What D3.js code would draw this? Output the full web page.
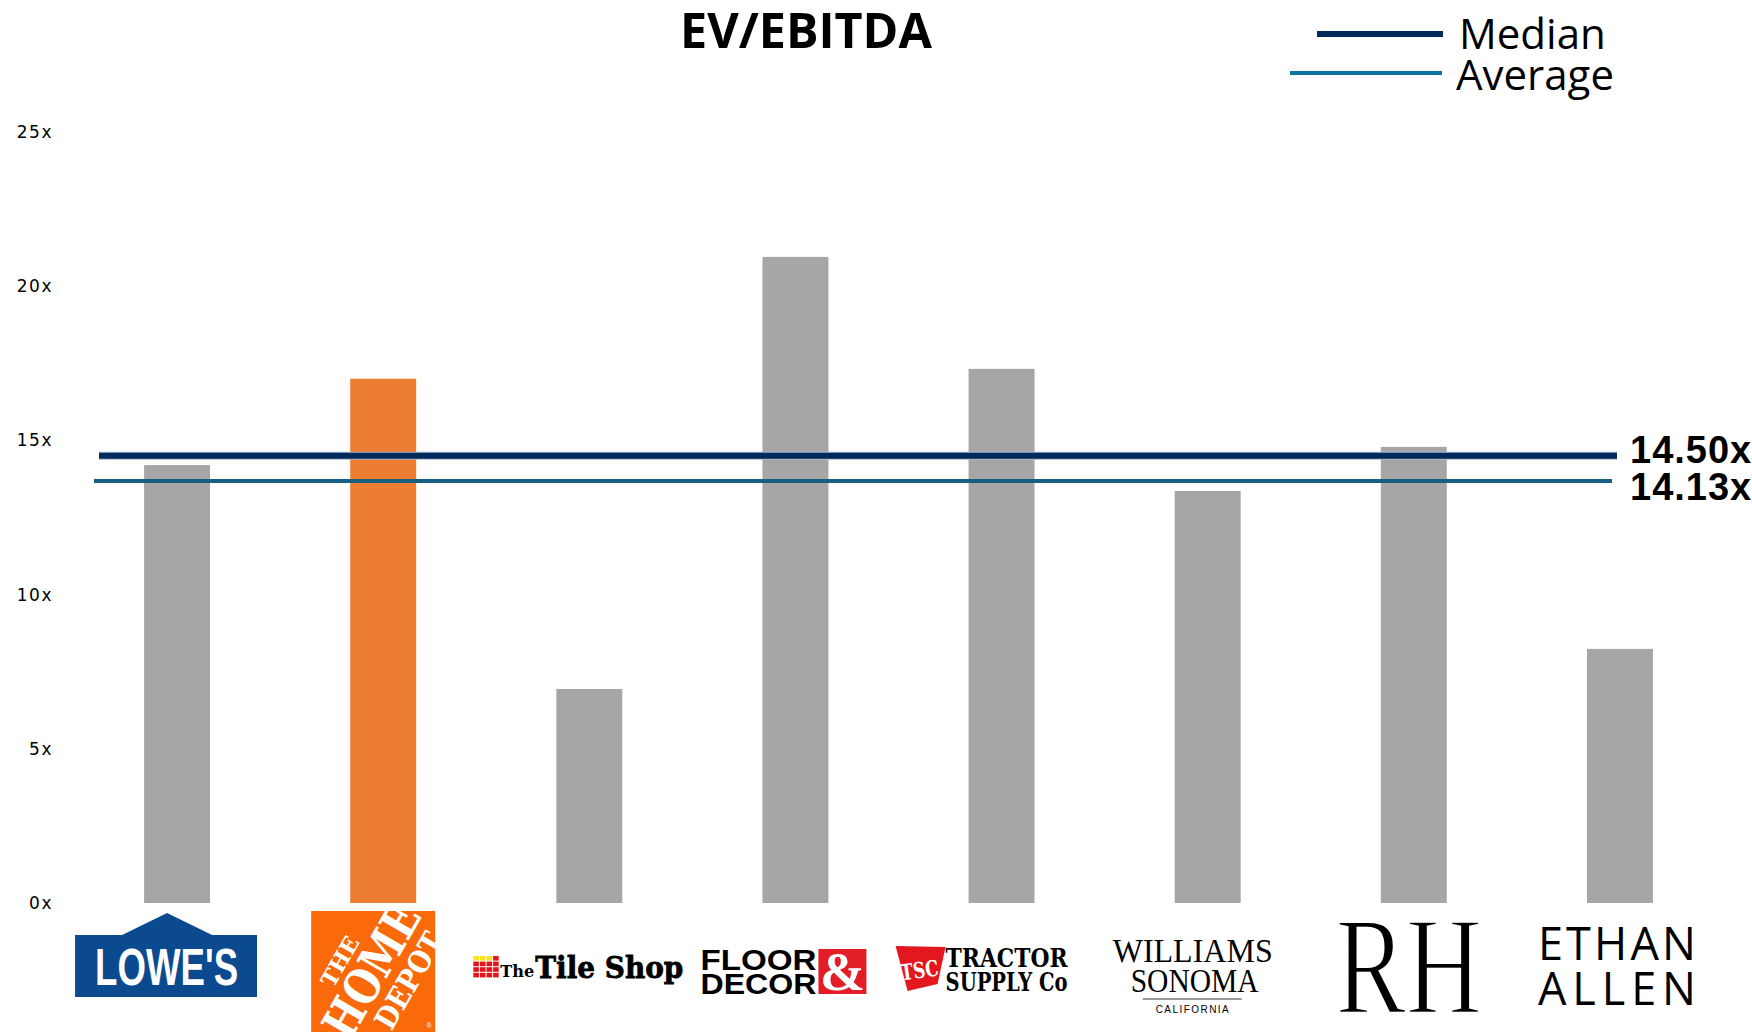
<!DOCTYPE html>
<html>
<head>
<meta charset="utf-8">
<script src="https://cdn.jsdelivr.net/npm/d3@7"></script>
<style>
  body { margin: 0; background: #fff; }
  svg { display: block; }
</style>
</head>
<body>
<script>
// Global consts
var w = 1752;
var h = 1032;

// data
var companies = ["Lowe's", "The Home Depot", "The Tile Shop", "Floor & Decor",
                 "Tractor Supply Co", "Williams Sonoma", "RH", "Ethan Allen"];
var evEbitda = [14.20, 17.00, 6.94, 20.95, 17.32, 13.36, 14.79, 8.24];
var highlight = "The Home Depot";
var yTicks = [0, 5, 10, 15, 20, 25];
var medianValue = 14.50;
var averageValue = 14.13;
// the average line in the source is drawn a bit lower than its label says
var averageDrawnAt = 13.68;
var legendItems = ["Median", "Average"];

var navy = "#002A5C";
var teal = "#175E82";

var svg = d3.select("body").append("svg")
    .attr("width", w)
    .attr("height", h);

var x = d3.scaleBand()
    .domain(companies)
    .range([74, 1723])
    .paddingInner(0.68)
    .paddingOuter(0.34);

var y = d3.scaleLinear()
    .domain([0, 25])
    .range([903, 132]);

// title
svg.append("text")
    .attr("x", 806)
    .attr("y", 48)
    .attr("text-anchor", "middle")
    .attr("font-family", "'Open Sans', 'Liberation Sans', sans-serif")
    .attr("font-weight", 700)
    .attr("font-size", "48.5px")
    .text("EV/EBITDA");

// y axis (labels only)
var yAxis = d3.axisLeft(y)
    .tickValues(yTicks)
    .tickSize(0)
    .tickPadding(0)
    .tickFormat(function (d) { return d + "x"; });

var gy = svg.append("g")
    .attr("transform", "translate(53,0)")
    .call(yAxis);
gy.select(".domain").remove();
gy.selectAll("text")
    .attr("font-family", "'DejaVu Sans', sans-serif")
    .attr("font-size", "17px")
    .attr("letter-spacing", "1.5px")
    .attr("fill", "#000");

// bars
var bars = companies.map(function (c, i) {
    return {name: c, value: evEbitda[i]};
});

svg.append("g")
    .selectAll("rect")
    .data(bars)
    .enter().append("rect")
    .attr("x", function (d) { return x(d.name); })
    .attr("y", function (d) { return y(d.value); })
    .attr("width", x.bandwidth())
    .attr("height", function (d) { return y(0) - y(d.value); })
    .attr("fill", function (d) { return d.name === highlight ? "#ED7D31" : "#A6A6A6"; });

// median / average lines
svg.append("line")
    .attr("x1", 99).attr("x2", 1617)
    .attr("y1", y(medianValue)).attr("y2", y(medianValue))
    .attr("stroke", "#A9B8CC").attr("stroke-width", 8);
svg.append("line")
    .attr("x1", 99).attr("x2", 1617)
    .attr("y1", y(medianValue)).attr("y2", y(medianValue))
    .attr("stroke", navy).attr("stroke-width", 6);
svg.append("line")
    .attr("x1", 94).attr("x2", 1612)
    .attr("y1", y(averageDrawnAt)).attr("y2", y(averageDrawnAt))
    .attr("stroke", teal).attr("stroke-width", 4);

var labelFont = "'Liberation Sans', Arial, sans-serif";
svg.append("text")
    .attr("x", 1630)
    .attr("y", y(medianValue) + 7)
    .attr("font-family", labelFont)
    .attr("font-weight", 700)
    .attr("font-size", "38px")
    .attr("letter-spacing", "1px")
    .text(medianValue.toFixed(2) + "x");
svg.append("text")
    .attr("x", 1630)
    .attr("y", y(averageDrawnAt) + 19)
    .attr("font-family", labelFont)
    .attr("font-weight", 700)
    .attr("font-size", "38px")
    .attr("letter-spacing", "1px")
    .text(averageValue.toFixed(2) + "x");

// legend
var legend = svg.append("g").attr("id", "legend");
legend.append("line")
    .attr("x1", 1317).attr("x2", 1443).attr("y1", 34).attr("y2", 34)
    .attr("stroke", navy).attr("stroke-width", 6);
legend.append("line")
    .attr("x1", 1290).attr("x2", 1442).attr("y1", 73).attr("y2", 73)
    .attr("stroke", "#0B76A0").attr("stroke-width", 4);
legend.selectAll("text.leg")
    .data(legendItems)
    .enter().append("text")
    .attr("class", "leg")
    .attr("x", function (d, i) { return i === 0 ? 1459 : 1456; })
    .attr("y", function (d, i) { return i === 0 ? 49 : 90; })
    .attr("font-family", "'Open Sans', 'Liberation Sans', sans-serif")
    .attr("font-size", "42px")
    .text(function (d) { return d; });

// logos under each bar
function cx(name) { return x(name) + x.bandwidth() / 2; }

function drawLowes(g, c) {
    g.append("polygon")
        .attr("points", [[c - 102, 935], [c - 55, 935], [c - 10, 913], [c + 35, 935],
                         [c + 80, 935], [c + 80, 997], [c - 102, 997]].join(" "))
        .attr("fill", "#0B4A8F");
    g.append("text")
        .attr("x", c - 82).attr("y", 985)
        .attr("font-family", "'Liberation Sans Narrow', 'Liberation Sans', sans-serif")
        .attr("font-weight", 700)
        .attr("font-size", "52px")
        .attr("textLength", 143)
        .attr("lengthAdjust", "spacingAndGlyphs")
        .attr("fill", "#fff")
        .text("LOWE'S");
}

function drawHomeDepot(g, c) {
    var x0 = c - 72, x1 = c + 52, y0 = 911, y1 = 1032;
    svg.append("clipPath").attr("id", "hdclip")
        .append("rect").attr("x", x0).attr("y", y0).attr("width", x1 - x0).attr("height", y1 - y0);
    g.append("rect")
        .attr("x", x0).attr("y", y0).attr("width", x1 - x0).attr("height", y1 - y0)
        .attr("fill", "#FA6A0A");
    var t = g.append("g").attr("clip-path", "url(#hdclip)")
        .append("g")
        .attr("transform", "translate(" + ((x0 + x1) / 2) + "," + ((y0 + y1) / 2) + ") rotate(-60)");
    var serif = "'DejaVu Serif', 'Liberation Serif', serif";
    t.append("text").attr("x", -8).attr("y", -26).attr("text-anchor", "middle")
        .attr("font-family", serif).attr("font-weight", 700).attr("font-size", "22px")
        .attr("fill", "#fff").text("THE");
    t.append("text").attr("x", 0).attr("y", 15).attr("text-anchor", "middle")
        .attr("font-family", serif).attr("font-weight", 700).attr("font-size", "48px")
        .attr("textLength", 146).attr("lengthAdjust", "spacingAndGlyphs")
        .attr("fill", "#fff").text("HOME");
    t.append("text").attr("x", 10).attr("y", 46).attr("text-anchor", "middle")
        .attr("font-family", serif).attr("font-weight", 700).attr("font-size", "30px")
        .attr("textLength", 106).attr("lengthAdjust", "spacingAndGlyphs")
        .attr("fill", "#fff").text("DEPOT");
    g.append("text").attr("x", x1 - 6).attr("y", y1 - 4).attr("text-anchor", "middle")
        .attr("font-family", "sans-serif").attr("font-size", "7px").attr("fill", "#fff").text("®");
}

function drawTileShop(g, c) {
    var gx = c - 116, gy0 = 956;
    for (var r = 0; r < 4; r++) {
        for (var k = 0; k < 4; k++) {
            g.append("rect")
                .attr("x", gx + k * 6.6).attr("y", gy0 + r * 5.6)
                .attr("width", 5.6).attr("height", 4.6)
                .attr("fill", r === 0 && k < 3 ? "#FFE21A" : "#E3141B");
        }
    }
    g.append("text").attr("x", c - 89).attr("y", 977)
        .attr("font-family", "'DejaVu Serif', serif").attr("font-weight", 700)
        .attr("font-size", "17px").attr("textLength", 34).attr("lengthAdjust", "spacingAndGlyphs")
        .text("The");
    g.append("text").attr("x", c - 54).attr("y", 978)
        .attr("font-family", "'DejaVu Serif', serif").attr("font-weight", 700)
        .attr("font-size", "30px").attr("textLength", 148).attr("lengthAdjust", "spacingAndGlyphs")
        .attr("stroke", "#000").attr("stroke-width", 0.8)
        .text("Tile Shop");
}

function drawFloorDecor(g, c) {
    var f = "'Liberation Sans', Arial, sans-serif";
    g.append("text").attr("x", c - 95).attr("y", 970)
        .attr("font-family", f).attr("font-weight", 700).attr("font-size", "29px")
        .attr("textLength", 116).attr("lengthAdjust", "spacingAndGlyphs").text("FLOOR");
    g.append("text").attr("x", c - 95).attr("y", 994)
        .attr("font-family", f).attr("font-weight", 700).attr("font-size", "29px")
        .attr("textLength", 116).attr("lengthAdjust", "spacingAndGlyphs").text("DECOR");
    g.append("rect").attr("x", c + 23).attr("y", 949).attr("width", 48).attr("height", 45)
        .attr("fill", "#E41E26");
    g.append("text").attr("x", c + 47).attr("y", 990).attr("text-anchor", "middle")
        .attr("font-family", "'Liberation Serif', serif").attr("font-weight", 700)
        .attr("font-size", "54px").attr("fill", "#fff").text("&");
}

function drawTractor(g, c) {
    g.append("polygon")
        .attr("points", [[c - 106, 946], [c - 56, 947], [c - 64, 984], [c - 94, 991]].join(" "))
        .attr("fill", "#E3181F");
    g.append("text").attr("x", c - 82).attr("y", 978).attr("text-anchor", "middle")
        .attr("transform", "rotate(-8," + (c - 82) + ",970)")
        .attr("font-family", "'DejaVu Serif', serif").attr("font-weight", 700)
        .attr("font-size", "22px").attr("textLength", 38).attr("lengthAdjust", "spacingAndGlyphs")
        .attr("fill", "#fff").text("TSC");
    var f = "'DejaVu Serif Condensed', 'DejaVu Serif', serif";
    g.append("text").attr("x", c - 56).attr("y", 967)
        .attr("font-family", f).attr("font-weight", 700).attr("font-size", "26px")
        .attr("textLength", 122).attr("lengthAdjust", "spacingAndGlyphs").text("TRACTOR");
    g.append("text").attr("x", c - 56).attr("y", 991)
        .attr("font-family", f).attr("font-weight", 700).attr("font-size", "26px")
        .attr("textLength", 122).attr("lengthAdjust", "spacingAndGlyphs").text("SUPPLY Co");
}

function drawWilliams(g, c) {
    var f = "'Liberation Serif', 'Times New Roman', serif";
    g.append("text").attr("x", c - 95).attr("y", 962)
        .attr("font-family", f).attr("font-size", "33px")
        .attr("textLength", 160).attr("lengthAdjust", "spacingAndGlyphs").text("WILLIAMS");
    g.append("text").attr("x", c - 77).attr("y", 992)
        .attr("font-family", f).attr("font-size", "33px")
        .attr("textLength", 128).attr("lengthAdjust", "spacingAndGlyphs").text("SONOMA");
    g.append("line").attr("x1", c - 65).attr("x2", c + 34).attr("y1", 999).attr("y2", 999)
        .attr("stroke", "#333").attr("stroke-width", 1);
    g.append("text").attr("x", c - 52).attr("y", 1013)
        .attr("font-family", "'Liberation Sans', sans-serif").attr("font-size", "10px")
        .attr("textLength", 73).attr("lengthAdjust", "spacing").text("CALIFORNIA");
}

function drawRH(g, c) {
    // thin white outline lightens the glyph strokes a little
    g.append("text").attr("x", c - 78).attr("y", 1013)
        .attr("font-family", "'Liberation Serif', serif").attr("font-size", "140px")
        .attr("textLength", 146).attr("lengthAdjust", "spacingAndGlyphs")
        .attr("stroke", "#fff").attr("stroke-width", 2.5)
        .text("RH");
}

function drawEthan(g, c) {
    var f = "'Open Sans', 'Liberation Sans', sans-serif";
    g.append("text").attr("x", c - 82).attr("y", 960)
        .attr("font-family", f).attr("font-weight", 400).attr("font-size", "45px")
        .attr("textLength", 158).attr("lengthAdjust", "spacing").text("ETHAN");
    g.append("text").attr("x", c - 82).attr("y", 1005)
        .attr("font-family", f).attr("font-weight", 400).attr("font-size", "45px")
        .attr("textLength", 158).attr("lengthAdjust", "spacing").text("ALLEN");
}

var logoFns = [drawLowes, drawHomeDepot, drawTileShop, drawFloorDecor,
               drawTractor, drawWilliams, drawRH, drawEthan];
var logos = svg.append("g").attr("id", "logos");
companies.forEach(function (c, i) {
    logoFns[i](logos.append("g"), cx(c));
});
</script>
</body>
</html>
